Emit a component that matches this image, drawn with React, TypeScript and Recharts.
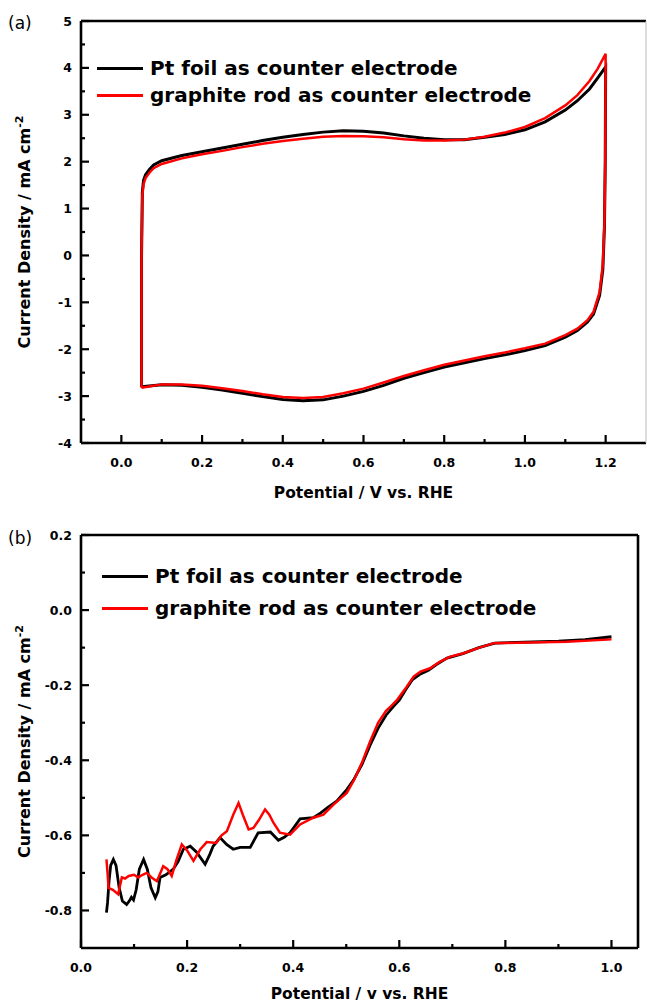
import React from 'react';
import { LineChart, Line, XAxis, YAxis, Legend } from 'recharts';

const SERIES_NAMES = ['Pt foil as counter electrode', 'graphite rod as counter electrode'];
const SERIES_COLORS = ['#000000', '#ff0000'];

const FONT = '"DejaVu Sans", Verdana, sans-serif';

// (a) cyclic voltammograms: anodic sweep 0.05 -> 1.2 V, then cathodic sweep back to 0.05 V
const cvPotential = [
  0.05, 0.05, 0.052, 0.055, 0.06, 0.07, 0.08, 0.1, 0.15, 0.2, 0.25, 0.3, 0.35, 0.4, 0.45, 0.5,
  0.55, 0.6, 0.65, 0.7, 0.75, 0.8, 0.85, 0.9, 0.95, 1.0, 1.05, 1.1, 1.13, 1.16, 1.18, 1.2,
  1.199, 1.197, 1.193, 1.185, 1.17, 1.155, 1.13, 1.1, 1.05, 1.0, 0.95, 0.9, 0.85, 0.8, 0.75,
  0.7, 0.65, 0.6, 0.55, 0.5, 0.45, 0.4, 0.35, 0.3, 0.25, 0.2, 0.15, 0.1, 0.05,
];
const cvPtFoil = [
  -2.8, 0.0, 1.35, 1.6, 1.72, 1.84, 1.93, 2.02, 2.13, 2.21, 2.29, 2.37, 2.45, 2.52, 2.58, 2.63,
  2.66, 2.65, 2.61, 2.55, 2.5, 2.47, 2.47, 2.52, 2.58, 2.68, 2.85, 3.1, 3.3, 3.55, 3.78, 4.02,
  2.0, 0.6, -0.3, -0.85, -1.25, -1.42, -1.6, -1.74, -1.92, -2.03, -2.12, -2.2, -2.29, -2.38, -2.5,
  -2.62, -2.77, -2.9, -3.0, -3.08, -3.1, -3.07, -3.01, -2.94, -2.87, -2.81, -2.77, -2.76, -2.8,
];
const cvGraphite = [
  -2.82, 0.0, 1.3, 1.52, 1.65, 1.77, 1.86, 1.95, 2.07, 2.16, 2.23, 2.31, 2.38, 2.44, 2.49, 2.53,
  2.55, 2.54, 2.52, 2.48, 2.45, 2.45, 2.47, 2.53, 2.62, 2.74, 2.93, 3.2, 3.42, 3.72, 3.98, 4.3,
  2.0, 0.7, -0.2, -0.78, -1.2, -1.38, -1.56, -1.7, -1.88, -1.98, -2.07, -2.15, -2.24, -2.33, -2.45,
  -2.57, -2.71, -2.84, -2.94, -3.02, -3.04, -3.02, -2.96, -2.89, -2.83, -2.78, -2.75, -2.75, -2.82,
];
const cvXTicks = [0, 0.1, 0.2, 0.3, 0.4, 0.5, 0.6, 0.7, 0.8, 0.9, 1.0, 1.1, 1.2];
const cvYTicks = [-4, -3.5, -3, -2.5, -2, -1.5, -1, -0.5, 0, 0.5, 1, 1.5, 2, 2.5, 3, 3.5, 4, 4.5, 5];

// (b) linear sweep voltammograms
const lsvPtPotential = [
  0.048, 0.05, 0.053, 0.056, 0.061, 0.066, 0.072, 0.078, 0.086, 0.091, 0.095, 0.099, 0.104, 0.11,
  0.118, 0.125, 0.132, 0.14, 0.145, 0.149, 0.16, 0.174, 0.183, 0.193, 0.206, 0.218, 0.234, 0.243,
  0.249, 0.262, 0.275, 0.287, 0.3, 0.319, 0.334, 0.357, 0.372, 0.383, 0.394, 0.413, 0.438, 0.452,
  0.464, 0.482, 0.501, 0.514, 0.53, 0.545, 0.56, 0.575, 0.59, 0.6, 0.612, 0.625, 0.64, 0.655,
  0.67, 0.69, 0.72, 0.75, 0.78, 0.82, 0.9, 0.95, 1.0,
];
const lsvPtCurrent = [
  -0.806, -0.78, -0.72, -0.68, -0.664, -0.68, -0.74, -0.775, -0.784, -0.775, -0.765, -0.772, -0.745,
  -0.69, -0.664, -0.69, -0.74, -0.766, -0.75, -0.712, -0.705, -0.69, -0.67, -0.637, -0.629, -0.645,
  -0.677, -0.65, -0.629, -0.606, -0.625, -0.637, -0.632, -0.632, -0.593, -0.591, -0.613, -0.605,
  -0.593, -0.556, -0.553, -0.54, -0.527, -0.509, -0.478, -0.452, -0.41, -0.36, -0.315, -0.28,
  -0.255, -0.24, -0.212, -0.185, -0.17, -0.16, -0.145, -0.128, -0.116, -0.1, -0.088, -0.086,
  -0.083, -0.079, -0.071,
];
const lsvGrPotential = [
  0.048, 0.05, 0.052, 0.06, 0.07, 0.077, 0.083, 0.09, 0.1, 0.108, 0.116, 0.124, 0.133, 0.143,
  0.155, 0.163, 0.171, 0.18, 0.19, 0.2, 0.212, 0.225, 0.237, 0.255, 0.265, 0.275, 0.287, 0.297,
  0.305, 0.316, 0.325, 0.335, 0.347, 0.355, 0.363, 0.375, 0.394, 0.413, 0.438, 0.457, 0.476,
  0.501, 0.515, 0.53, 0.545, 0.56, 0.575, 0.585, 0.596, 0.614, 0.627, 0.64, 0.658, 0.676, 0.696,
  0.721, 0.747, 0.778, 0.822, 0.916, 1.0,
];
const lsvGrCurrent = [
  -0.664, -0.7, -0.74, -0.745, -0.757, -0.712, -0.715, -0.708, -0.705, -0.712, -0.705, -0.7, -0.712,
  -0.722, -0.682, -0.69, -0.708, -0.665, -0.624, -0.64, -0.668, -0.637, -0.618, -0.62, -0.6, -0.589,
  -0.545, -0.514, -0.545, -0.584, -0.58, -0.56, -0.531, -0.545, -0.567, -0.593, -0.598, -0.571,
  -0.553, -0.545, -0.518, -0.487, -0.452, -0.405, -0.35, -0.3, -0.268, -0.255, -0.239, -0.204,
  -0.177, -0.164, -0.155, -0.138, -0.124, -0.115, -0.102, -0.088, -0.087, -0.084, -0.078,
];
const lsvXTicks = [0, 0.1, 0.2, 0.3, 0.4, 0.5, 0.6, 0.7, 0.8, 0.9, 1.0];
const lsvYTicks = [-0.8, -0.7, -0.6, -0.5, -0.4, -0.3, -0.2, -0.1, 0, 0.1, 0.2];

const toPoints = (xs: number[], ys: number[]) => xs.map((x, i) => ({ x, y: ys[i] }));

const cvPtData = toPoints(cvPotential, cvPtFoil);
const cvGrData = toPoints(cvPotential, cvGraphite);
const lsvPtData = toPoints(lsvPtPotential, lsvPtCurrent);
const lsvGrData = toPoints(lsvGrPotential, lsvGrCurrent);

const isMajor = (v: number, step: number) => Math.abs(v / step - Math.round(v / step)) < 1e-6;

const Y_GAP = 9;
const X_GAP = 16;

// ticks point inward, labels only on major ticks
const YTick = (props: any) => {
  const { x, y, payload, step, fmt } = props;
  const major = isMajor(payload.value, step);
  const ax = x + Y_GAP;
  return (
    <g>
      <line x1={ax} x2={ax + (major ? 8 : 4)} y1={y} y2={y} stroke="#000" strokeWidth={2.2} />
      {major && (
        <text x={x} y={y + 4.5} textAnchor="end" fontFamily={FONT} fontSize={12.5} fontWeight="bold" fill="#000">
          {fmt(payload.value)}
        </text>
      )}
    </g>
  );
};

const XTick = (props: any) => {
  const { x, y, payload, step, fmt } = props;
  const major = isMajor(payload.value, step);
  const ay = y - X_GAP;
  return (
    <g>
      <line x1={x} x2={x} y1={ay} y2={ay - (major ? 8 : 4)} stroke="#000" strokeWidth={2.2} />
      {major && (
        <text x={x} y={y + 8} textAnchor="middle" fontFamily={FONT} fontSize={12.5} fontWeight="bold" fill="#000">
          {fmt(payload.value)}
        </text>
      )}
    </g>
  );
};

const YTitle = (props: any) => {
  const { viewBox } = props;
  const cx = 30;
  const cy = viewBox.y + viewBox.height / 2;
  return (
    <text
      x={cx}
      y={cy}
      transform={`rotate(-90, ${cx}, ${cy})`}
      textAnchor="middle"
      fontFamily={FONT}
      fontSize={16}
      fontWeight="bold"
      fill="#000"
    >
      <tspan>Current Density / mA cm</tspan>
      <tspan dy={-7} fontSize={11}>-2</tspan>
    </text>
  );
};

const XTitle = (props: any) => {
  const { viewBox, text, drop } = props;
  return (
    <text
      x={viewBox.x + viewBox.width / 2}
      y={viewBox.y + drop}
      textAnchor="middle"
      fontFamily={FONT}
      fontSize={15.5}
      fontWeight="bold"
      fill="#000"
    >
      {text}
    </text>
  );
};

const renderLegend = (rowHeight: number) => (props: any) => {
  const { payload } = props;
  return (
    <div>
      {payload.map((entry: any, index: number) => (
        <div key={`item-${index}`} style={{ display: 'flex', alignItems: 'center', height: rowHeight }}>
          <span style={{ display: 'inline-block', width: 46, height: 3, background: entry.color, marginRight: 7 }} />
          <span style={{ fontFamily: FONT, fontWeight: 'bold', fontSize: 20, color: '#000', whiteSpace: 'nowrap' }}>
            {entry.value}
          </span>
        </div>
      ))}
    </div>
  );
};

const panelLabel = (top: number): React.CSSProperties => ({
  position: 'absolute',
  left: 8,
  top,
  fontFamily: FONT,
  fontSize: 17,
  color: '#000',
  lineHeight: '20px',
});

const axisLine = { stroke: '#000', strokeWidth: 2.6 };

const App: React.FC = () => {
  return (
    <div style={{ position: 'absolute', left: 0, top: 0, width: 647, height: 1003, background: '#fff', overflow: 'hidden' }}>
      <div style={panelLabel(13)}>(a)</div>
      <div style={{ position: 'absolute', left: 0, top: 0 }}>
        <LineChart width={647} height={515} margin={{ top: 20, right: 0, bottom: 71, left: 80 }}>
          <XAxis
            dataKey="x"
            type="number"
            domain={[-0.1, 1.3]}
            ticks={cvXTicks}
            interval={0}
            height={1}
            tickSize={0}
            tickMargin={X_GAP}
            tickLine={false}
            axisLine={axisLine}
            tick={<XTick step={0.2} fmt={(v: number) => v.toFixed(1)} />}
            label={<XTitle text="Potential / V vs. RHE" drop={55} />}
          />
          <XAxis xAxisId="top" orientation="top" dataKey="x" type="number" domain={[-0.1, 1.3]} height={1} tick={false} tickLine={false} axisLine={axisLine} />
          <YAxis
            type="number"
            domain={[-4, 5]}
            ticks={cvYTicks}
            interval={0}
            width={1}
            tickSize={0}
            tickMargin={Y_GAP}
            tickLine={false}
            axisLine={axisLine}
            tick={<YTick step={1} fmt={(v: number) => String(v)} />}
            label={<YTitle />}
          />
          <YAxis yAxisId="right" orientation="right" type="number" domain={[-4, 5]} width={1} tick={false} tickLine={false} axisLine={{ stroke: '#bbb', strokeWidth: 1 }} />
          <Line data={cvPtData} dataKey="y" name={SERIES_NAMES[0]} stroke={SERIES_COLORS[0]} strokeWidth={3} dot={false} type="linear" isAnimationActive={false} />
          <Line data={cvGrData} dataKey="y" name={SERIES_NAMES[1]} stroke={SERIES_COLORS[1]} strokeWidth={2.5} dot={false} type="linear" isAnimationActive={false} />
          <Legend
            layout="horizontal"
            verticalAlign="middle"
            align="center"
            content={renderLegend(27)}
            wrapperStyle={{ left: 97, top: 54.5, width: 'auto' }}
          />
        </LineChart>
      </div>

      <div style={panelLabel(528)}>(b)</div>
      <div style={{ position: 'absolute', left: 0, top: 500 }}>
        <LineChart width={647} height={503} margin={{ top: 34, right: 8, bottom: 54, left: 80 }}>
          <XAxis
            dataKey="x"
            type="number"
            domain={[0, 1.05]}
            ticks={lsvXTicks}
            interval={0}
            height={1}
            tickSize={0}
            tickMargin={X_GAP}
            tickLine={false}
            axisLine={axisLine}
            tick={<XTick step={0.2} fmt={(v: number) => v.toFixed(1)} />}
            label={<XTitle text="Potential / v vs. RHE" drop={51} />}
          />
          <XAxis xAxisId="top" orientation="top" dataKey="x" type="number" domain={[0, 1.05]} height={1} tick={false} tickLine={false} axisLine={axisLine} />
          <YAxis
            type="number"
            domain={[-0.9, 0.2]}
            ticks={lsvYTicks}
            interval={0}
            width={1}
            tickSize={0}
            tickMargin={Y_GAP}
            tickLine={false}
            axisLine={axisLine}
            tick={<YTick step={0.2} fmt={(v: number) => v.toFixed(1)} />}
            label={<YTitle />}
          />
          <YAxis yAxisId="right" orientation="right" type="number" domain={[-0.9, 0.2]} width={1} tick={false} tickLine={false} axisLine={axisLine} />
          <Line data={lsvPtData} dataKey="y" name={SERIES_NAMES[0]} stroke={SERIES_COLORS[0]} strokeWidth={2.8} dot={false} type="linear" isAnimationActive={false} />
          <Line data={lsvGrData} dataKey="y" name={SERIES_NAMES[1]} stroke={SERIES_COLORS[1]} strokeWidth={2.5} dot={false} type="linear" isAnimationActive={false} />
          <Legend
            layout="horizontal"
            verticalAlign="middle"
            align="center"
            content={renderLegend(32)}
            wrapperStyle={{ left: 102, top: 60, width: 'auto' }}
          />
        </LineChart>
      </div>
    </div>
  );
};

export default App;
